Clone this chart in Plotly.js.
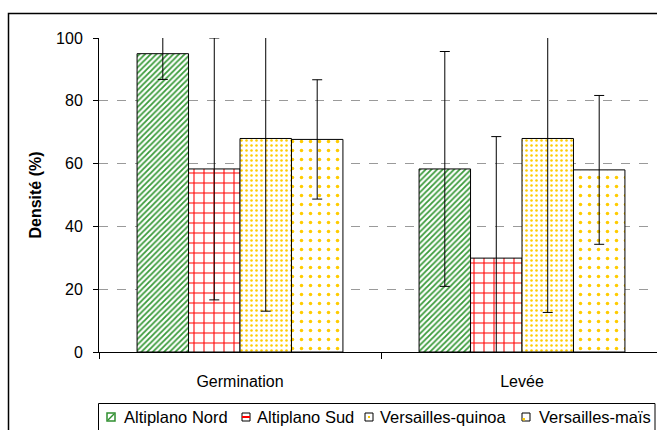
<!DOCTYPE html>
<html><head><meta charset="utf-8">
<script src="https://cdn.plot.ly/plotly-3.0.1.min.js"></script>
<style>html,body{margin:0;padding:0;overflow:hidden;background:#fff;width:657px;height:430px}</style>
</head><body><div id="chart"></div>
<script>
const categories = ['Germination', 'Levée'];
const seriesNames = ['Altiplano Nord', 'Altiplano Sud', 'Versailles-quinoa', 'Versailles-maïs'];
const nordValues = [95.0, 58.3];
const nordErrors = [8.2, 37.4];
const sudValues = [58.3, 29.9];
const sudErrors = [41.7, 38.7];
const quinoaValues = [68.0, 68.0];
const quinoaErrors = [55.0, 55.4];
const maisValues = [67.7, 58.0];
const maisErrors = [19.0, 23.7];
const yTicks = [0, 20, 40, 60, 80, 100];

const values = [nordValues, sudValues, quinoaValues, maisValues];
const errors = [nordErrors, sudErrors, quinoaErrors, maisErrors];
const patterns = [
  {shape: '/', fgcolor: '#3a9a3a', bgcolor: '#ffffff', size: 4, solidity: 0.45},
  {shape: '+', fgcolor: '#ff0000', bgcolor: '#ffffff', size: 10, solidity: 0.2},
  {shape: '.', fgcolor: '#ffcc00', bgcolor: '#ffffff', size: 5, solidity: 0.2},
  {shape: '.', fgcolor: '#ffcc00', bgcolor: '#ffffff', size: 9, solidity: 0.12}
];

const traces = seriesNames.map((name, i) => ({
  type: 'bar', name: name, x: categories, y: values[i],
  marker: {color: '#ffffff', line: {color: '#000000', width: 1}, pattern: patterns[i]},
  error_y: {type: 'data', array: errors[i], visible: true, color: '#000000', thickness: 1, width: 5}
}));

// layout geometry (pixels)
const W = 665, H = 430, ML = 99, MR = 2, MT = 38, MB = 78;
const PW = W - ML - MR, PH = H - MT - MB;
const px = p => (p - ML) / PW;
const py = p => (H - MB - p) / PH;

// custom legend (positions only; labels from seriesNames)
const legendSquareX = [107, 242, 365, 522];
const legendTextX = [122, 255, 378, 537];
const legendY = 417;
const shapes = [
  {type: 'rect', xref: 'paper', yref: 'paper', x0: px(8.5), x1: px(700), y0: py(460), y1: py(13.5),
    line: {color: '#000000', width: 1.5}, fillcolor: 'rgba(0,0,0,0)', layer: 'below'},
  {type: 'rect', xref: 'paper', yref: 'paper', x0: px(98.5), x1: px(655), y0: py(440), y1: py(403.5),
    line: {color: '#000000', width: 1}, fillcolor: 'rgba(0,0,0,0)'}
];
const sq = 8;
legendSquareX.forEach((x, i) => {
  const y0 = legendY - sq / 2, y1 = legendY + sq / 2;
  if (i === 0) {
    shapes.push({type: 'rect', xref: 'paper', yref: 'paper', x0: px(x), x1: px(x + sq), y0: py(y1), y1: py(y0),
      line: {color: '#2f8f2f', width: 1.5}, fillcolor: '#ffffff'});
    shapes.push({type: 'line', xref: 'paper', yref: 'paper', x0: px(x + 1), x1: px(x + sq - 1), y0: py(y1 - 1), y1: py(y0 + 1),
      line: {color: '#2f8f2f', width: 1.5}});
  } else if (i === 1) {
    shapes.push({type: 'rect', xref: 'paper', yref: 'paper', x0: px(x), x1: px(x + sq), y0: py(y1), y1: py(y0),
      line: {color: '#000000', width: 1}, fillcolor: '#ffffff'});
    shapes.push({type: 'line', xref: 'paper', yref: 'paper', x0: px(x), x1: px(x + sq), y0: py(legendY), y1: py(legendY),
      line: {color: '#ff0000', width: 2}});
  } else if (i === 2) {
    shapes.push({type: 'rect', xref: 'paper', yref: 'paper', x0: px(x), x1: px(x + sq), y0: py(y1), y1: py(y0),
      line: {color: '#000000', width: 1}, fillcolor: '#ffffff'});
    shapes.push({type: 'rect', xref: 'paper', yref: 'paper', x0: px(x + 3), x1: px(x + 5), y0: py(legendY + 1), y1: py(legendY - 1),
      line: {width: 0}, fillcolor: '#ffcc00'});
  } else {
    shapes.push({type: 'rect', xref: 'paper', yref: 'paper', x0: px(x), x1: px(x + sq), y0: py(y1), y1: py(y0),
      line: {color: '#000000', width: 1}, fillcolor: '#ffffff'});
    shapes.push({type: 'rect', xref: 'paper', yref: 'paper', x0: px(x + 0.5), x1: px(x + 3), y0: py(y1 - 0.5), y1: py(y1 - 3),
      line: {width: 0}, fillcolor: '#ffcc00'});
  }
});
const annotations = seriesNames.map((name, i) => ({
  xref: 'paper', yref: 'paper', x: px(legendTextX[i]), y: py(legendY), xanchor: 'left', yanchor: 'middle',
  text: name, showarrow: false, font: {size: 16.5, color: '#000000'}
}));

const layout = {
  width: W, height: H,
  margin: {l: ML, r: MR, t: MT, b: MB},
  paper_bgcolor: '#ffffff', plot_bgcolor: '#ffffff',
  font: {family: 'Liberation Sans, Arial, sans-serif', size: 16, color: '#000000'},
  barmode: 'group', bargap: 0.27, bargroupgap: 0,
  showlegend: false,
  xaxis: {type: 'category', showline: true, linecolor: '#000000', linewidth: 1,
    ticks: 'outside', tickson: 'boundaries', ticklen: 6, tickcolor: '#000000',
    showgrid: false, tickfont: {size: 16}, ticklabelstandoff: 15},
  yaxis: {range: [0, 100], tickvals: yTicks, showline: true, linecolor: '#000000', linewidth: 1,
    ticks: 'outside', ticklen: 5, tickcolor: '#000000', showgrid: true, gridcolor: '#9a9a9a',
    griddash: 'dash', gridwidth: 1, zeroline: false, tickfont: {size: 16}, ticklabelstandoff: 7,
    title: {text: '<b>Densité (%)</b>', font: {size: 16}, standoff: 10}},
  shapes: shapes,
  annotations: annotations
};
Plotly.newPlot('chart', traces, layout, {staticPlot: true});
</script></body></html>
